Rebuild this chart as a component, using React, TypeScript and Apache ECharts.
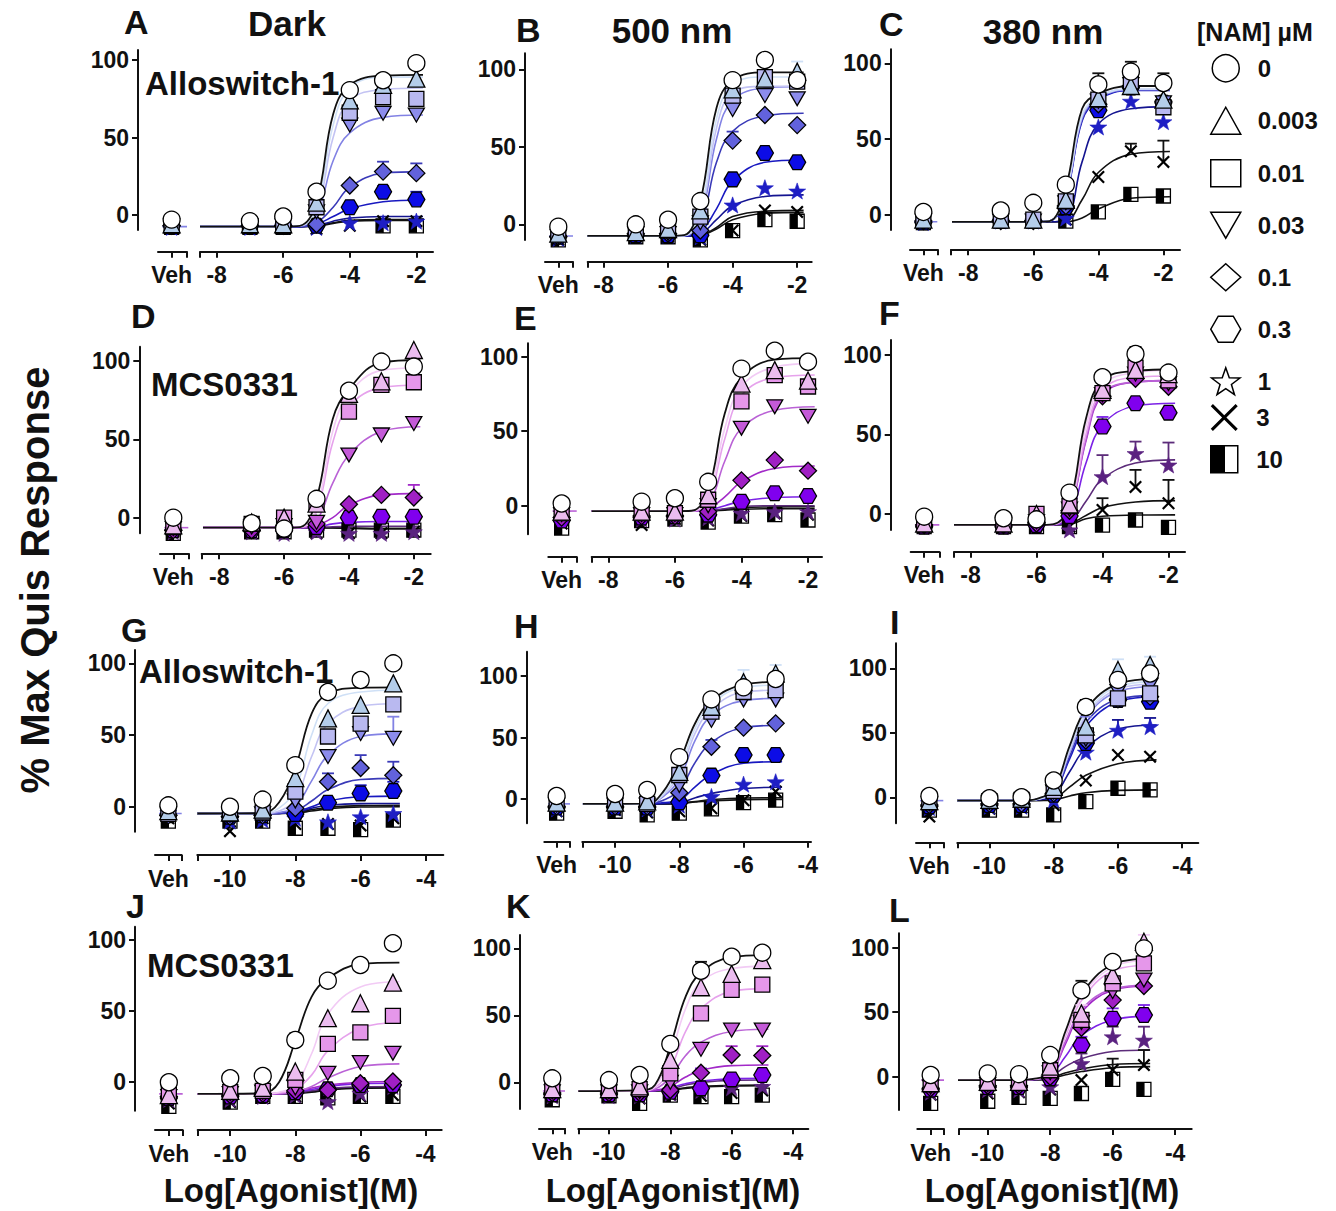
import React, { useEffect, useRef } from "react";
import * as echarts from "echarts";

// ---------------- DATA ----------------
const CONCS = ["0", "0.003", "0.01", "0.03", "0.1", "0.3", "1", "3", "10"];
const DOSES_AF = [-7, -6, -5, -4, -3, -2];
const DOSES_GL = [-10, -9, -8, -7, -6, -5];
const FITX_AF = [-8.5, -6, -5.5, -5, -4.5, -4, -3, -1.8];
const FITX_GL = [-11, -9, -8.5, -8, -7.5, -7, -6, -4.8];
const TICKS_AF = [-8, -6, -4, -2];
const TICKS_GL = [-10, -8, -6, -4];
const Y_TICKS = [0, 50, 100];

// Panel A (Dark, Alloswitch-1, quisqualate)
const A_VEH = [-3, -6, -7, -7, -7, -7, -8, -8, -8];
const A_PTS = [
  [-4, -1, 15, 80.6, 87, 98],
  [-6, -6, 8, 74, 84, 88],
  [-7, -7, 5, 66, 76, 75],
  [-7, -7, 2, 58, 65.6, 64.5],
  [-7, -7, -6, 19, 28, 27],
  [-7, -7, -7, 5, 15, 10],
  [-8, -7, -8, -5, -5, -4],
  [-8, -7, -9, -7, -4, -4],
  [-8, -8, -10, -10, -7, -7],
];
const A_FIT = [
  [-7.5, -7.5, -7, 8, 65, 84, 90, 90.5],
  [-7.5, -7.5, -7, 4, 58, 82, 89, 89],
  [-7.5, -7.5, -7, 2, 50, 74, 81, 82],
  [-7.5, -7.5, -7.2, 0, 35, 53, 63, 64.5],
  [-7.5, -7.5, -7.5, -5, 5, 18, 27, 28],
  [-7.5, -7.5, -7.5, -6, -1, 4, 8.5, 9.7],
  [-7.5, -7.5, -7.5, -7, -4, -2, -1, -1],
  [-7.5, -7.5, -7.5, -7, -5, -3.5, -3, -3],
  [-7.5, -7.5, -7.5, -7.2, -5.5, -4, -3.5, -3.5],
];
const A_ERR = [[4, 4, 34.4], [4, 5, 33.3], [5, 4, 18.7], [5, 5, 15]];

// Panel B (500 nm, Alloswitch-1)
const B_VEH = [-1.5, -6, -6, -8, -8, -8, -9, -10, -10];
const B_PTS = [
  [0, 3, 15, 93, 106, 93],
  [-5, -3, 9, 87, 94, 98.5],
  [-5, -4, 5, 83, 95, 92],
  [-6, -6, 1, 74, 83, 81],
  [-6, -6, -4, 54, 70.5, 64],
  [-7, -7, -7, 29, 46, 40],
  [-7, -7, -8, 12.5, 23.6, 21.5],
  [-8, -8, -10, -4, 9, 8],
  [-8, -8, -10, -4, 3, 2],
];
const B_FIT = [
  [-7.5, -7.5, -7, 15, 75, 93, 98, 98],
  [-7.5, -7.5, -7.2, 8, 68, 90, 95, 95],
  [-7.5, -7.5, -7.3, 5, 62, 85, 89, 89],
  [-7.5, -7.5, -7.3, 3, 55, 80, 88, 89],
  [-7.5, -7.5, -7.4, 0, 40, 60, 70, 71.6],
  [-7.5, -7.5, -7.5, -5, 10, 28, 40, 41.5],
  [-7.5, -7.5, -7.5, -6, 3, 12, 18, 19],
  [-7.5, -7.5, -7.5, -7, -2, 5, 8.5, 9],
  [-7.5, -7.5, -7.5, -7, -3, 3, 7, 7.7],
];
const B_ERR = [[1, 5, 105], [4, 3, 59.8]];

// Panel C (380 nm, Alloswitch-1)
const C_VEH = [2, -3, -3, -4, -4, -5, -5, -5, -5];
const C_PTS = [
  [3, 8, 20, 86, 94.5, 87],
  [-3, -3, 10, 77, 85, 76],
  [-3, -3, 9, 76, 88, 71],
  [-4, -4, 8, 75, 86, 74],
  [-4, -4, 6, 73, 85, 75],
  [-4, -4, 5, 69, 84, 74],
  [-4, -4, -2, 58, 75, 61.5],
  [-4, -4, -3, 25, 42, 35],
  [-4, -4, -4, 2, 13.6, 12.5],
];
const C_FIT = [
  [-4.5, -4.5, -4, 18, 70, 80, 85, 85],
  [-4.5, -4.5, -4, 15, 66, 78, 83, 83],
  [-4.5, -4.5, -4, 14, 65, 78, 83, 83],
  [-4.5, -4.5, -4, 13, 64, 77, 82.5, 82.5],
  [-4.5, -4.5, -4, 13, 63, 77, 82.5, 82.5],
  [-4.5, -4.5, -4, 12, 62, 76, 82, 82],
  [-4.5, -4.5, -4.5, -3, 35, 60, 70, 71.4],
  [-4.5, -4.5, -4.5, -4, 10, 28, 40, 41.8],
  [-4.5, -4.5, -4.5, -4.5, -2, 4, 11, 12],
];
const C_ERR = [[0, 3, 93.4], [0, 4, 101], [0, 5, 93.4], [7, 4, 47], [7, 5, 49]];

// Panel D (Dark, MCS0331)
const D_VEH = [0, -5, -6, -7, -8, -8, -9, -9, -10];
const D_PTS = [
  [-3.6, -7, 12, 81, 99.6, 96.4],
  [-3, 0, 9, 79, 87, 107],
  [-4, 0, 9, 67.7, 84.7, 86.4],
  [-6, -5, -3, 40, 52.8, 60],
  [-8, -7, -4, 8.5, 14.5, 12.8],
  [-8, -8, -6, 0, 0.6, 0.6],
  [-9, -10, -9, -10, -10, -9],
  [-10, -11, -10, -10, -10, -9],
  [-9, -9, -8, -8, -8, -8],
];
const D_FIT = [
  [-6.4, -6.4, -6, 12, 63, 82, 99, 100.6],
  [-6.4, -6.4, -6, 6, 55, 79, 94, 95.7],
  [-6.4, -6.4, -6.2, 4, 48, 71, 83, 84.7],
  [-6.4, -6.4, -6.3, -2, 22, 40, 55, 58],
  [-6.4, -6.4, -6.4, -5, 0, 8, 14.5, 15.5],
  [-6.4, -6.4, -6.4, -6, -4, -3, -2.5, -2.5],
  [-6.4, -6.4, -6.4, -6.2, -5.8, -5.6, -5.5, -5.5],
  [-6.4, -6.4, -6.4, -6.4, -6.5, -6.7, -7, -7],
  [-6.4, -6.4, -6.4, -6.4, -6.6, -6.8, -7, -7],
];
const D_ERR = [[4, 5, 20.9]];

// Panel E (500 nm, MCS0331)
const E_VEH = [1.5, -4, -5, -6, -8, -10, -5, -12, -15];
const E_PTS = [
  [2.7, 5, 16, 92, 104, 96.6],
  [-4, -4, 7, 82, 91, 84],
  [-5, -5, 4, 70, 87.7, 80],
  [-6, -6, 0, 52, 66.4, 60],
  [-7, -7, -4, 17, 30.6, 23.5],
  [-8, -7, -6, 2.7, 8.3, 6.5],
  [-9, -9, -8, -5, -4, -4],
  [-13, -9, -10, -7, -5, -6],
  [-10, -9, -11, -7, -6, -9.6],
];
const E_FIT = [
  [-3.6, -3.6, -3.4, 10, 62, 86, 98, 99],
  [-3.6, -3.6, -3.5, 6, 52, 80, 93, 95.5],
  [-3.6, -3.6, -3.5, 4, 45, 74, 86, 87.7],
  [-3.6, -3.6, -3.6, 0, 30, 52, 64, 66.4],
  [-3.6, -3.6, -3.6, -2, 6, 16, 25, 26.6],
  [-3.6, -3.6, -3.6, -3, 0, 3, 5.5, 6],
  [-3.6, -3.6, -3.6, -3.4, -2, -0.5, 0, 0],
  [-3.6, -3.6, -3.6, -3.5, -2.5, -1.2, -0.8, -0.7],
  [-3.6, -3.6, -3.6, -3.5, -3, -2.4, -2, -2],
];
const E_ERR = [];

// Panel F (380 nm, MCS0331)
const F_VEH = [-1.7, -6, -6, -7, -7, -8, -8, -8, -8];
const F_PTS = [
  [-2.7, -3.4, 13.4, 86, 100.6, 88.9],
  [-6, 0, 6, 78, 90.6, 88],
  [-6, 0, 5, 76, 92, 84],
  [-7, -5, 3, 75, 88, 82],
  [-7, -6, 2, 74, 85, 80],
  [-8, -7, -1.3, 55, 69.6, 63.7],
  [-8, -7, -10, 23.5, 38, 30.8],
  [-8, -7, -8, 2.5, 17, 6.7],
  [-8, -8, -8, -7, -3.8, -8.4],
];
const F_FIT = [
  [-6.9, -6.9, -6.5, 6, 60, 84, 90, 91],
  [-6.9, -6.9, -6.6, 4, 55, 81, 89, 90.6],
  [-6.9, -6.9, -6.6, 3, 50, 78, 86, 86.8],
  [-6.9, -6.9, -6.7, 2, 47, 76, 83, 84],
  [-6.9, -6.9, -6.7, 2, 46, 75, 83, 84],
  [-6.9, -6.9, -6.8, -2, 32, 56, 68, 69.6],
  [-6.9, -6.9, -6.9, -5, 8, 22, 32, 34],
  [-6.9, -6.9, -6.9, -6, -1, 4, 7.5, 8.4],
  [-6.9, -6.9, -6.9, -6.5, -3, -1.5, -0.7, -0.6],
];
const F_ERR = [[0, 4, 105], [6, 3, 37], [6, 4, 45.5], [6, 5, 44.9], [7, 3, 9.9], [7, 4, 27.7], [7, 5, 21.4], [5, 3, 61]];

// Panel G (Dark, Alloswitch-1, glutamate)
const G_VEH = [1, -3, -5, -5, -6, -6, -4, -8, -10];
const G_PTS = [
  [0, 5, 29, 80, 88.4, 100],
  [-4, -2, 20, 61.6, 71, 86],
  [-5, -4, 10.5, 49, 58, 71.4],
  [-6, -5, 4, 35, 51, 47.7],
  [-7, -6, -1, 17.4, 27, 22],
  [-7, -6, -5, 2.8, 9.3, 11],
  [-10, -9, -8, -10.5, -7, -4.7],
  [-17, -8, -12, -12, -13, -8],
  [-10, -10, -15, -15, -16, -9.3],
];
const G_FIT = [
  [-4.7, -4.5, 3, 27, 65, 79, 83, 83.3],
  [-4.7, -4.7, -1, 12, 50, 72, 80, 81.4],
  [-4.7, -4.7, -3, 5, 35, 58, 70, 72],
  [-4.7, -4.7, -4, 0, 18, 36, 49, 51],
  [-4.7, -4.7, -4.5, -3, 4, 12, 19, 19.8],
  [-4.7, -4.7, -4.6, -3.5, 0, 4, 7, 7.4],
  [-4.7, -4.7, -4.6, -4, -1, 1, 2.2, 2.3],
  [-4.7, -4.7, -4.7, -4.2, -2, -0.5, 0.8, 1],
  [-4.7, -4.7, -4.7, -4.4, -3, -1.5, -0.2, 0],
];
const G_ERR = [[3, 5, 62.8], [4, 4, 36], [4, 5, 31.4], [5, 4, 15], [5, 5, 17.4], [4, 3, 23.3]];

// Panel H
const H_VEH = [2.4, -3, -4, -5, -6, -7, -8, -10, -11.6];
const H_PTS = [
  [4, 7.3, 34, 81, 90.8, 97.6],
  [-3, -2, 22, 75, 95, 102],
  [-4, -4, 19.5, 71, 87, 88.6],
  [-5, -5, 11, 64, 80.5, 80.5],
  [-6, -6, 5, 42.5, 58, 61.5],
  [-7, -7, -2.7, 19, 35.8, 35.8],
  [-7, -8, -5, 2, 12, 14],
  [-9, -11, -10, -7.6, -1, 6],
  [-10, -13, -11.6, -8, -3, -1],
];
const H_FIT = [
  [-4, -3.8, 6, 30, 62, 80, 93, 95.4],
  [-4, -3.9, 4, 24, 58, 77, 91, 92.7],
  [-4, -4, 3, 20, 54, 73, 87, 88.6],
  [-4, -4, 2, 16, 48, 68, 80, 82],
  [-4, -4, -1, 7, 30, 46, 58, 60],
  [-4, -4, -3, -1, 10, 20, 29, 30.4],
  [-4, -4, -3.8, -3, 1, 4.5, 8.5, 9.5],
  [-4, -4, -4, -3.5, -2, -0.5, 0.8, 1],
  [-4, -4, -4, -3.8, -2.5, -1.5, -0.5, -0.3],
];
const H_ERR = [[1, 4, 105], [1, 5, 109], [4, 3, 48]];

// Panel I
const I_VEH = [1, -3, -4, -5, -6, -7, -8, -15, -10];
const I_PTS = [
  [-0.8, 0, 13, 70, 91, 96],
  [-2, -1, 8, 54.8, 98.7, 102.6],
  [-3, -2, 5, 48, 76.7, 80.6],
  [-4, -3, 4, 45, 82, 87],
  [-5, -5, 3, 44, 76, 78],
  [-6, -6, 2, 42, 75.5, 74],
  [-7, -7, -2, 35, 52, 54.8],
  [-9, -8, -6, 13, 32.8, 31.5],
  [-10, -10, -13.7, -3.4, 7, 5.7],
];
const I_FIT = [
  [-2.6, -2.6, -1, 6, 40, 68, 88, 92],
  [-2.6, -2.6, -1.5, 5, 38, 65, 86, 89.7],
  [-2.6, -2.6, -1.5, 4, 36, 63, 84, 88],
  [-2.6, -2.6, -1.5, 4, 35, 62, 82, 86],
  [-2.6, -2.6, -1.5, 3, 32, 58, 76, 79],
  [-2.6, -2.6, -1.5, 3, 30, 55, 74, 78],
  [-2.6, -2.6, -2, 1, 20, 38, 53, 56],
  [-2.6, -2.6, -2.5, -1, 8, 17, 26, 29],
  [-2.6, -2.6, -2.5, -2, 1, 3.5, 5.3, 5.7],
];
const I_ERR = [[0, 3, 75.5], [1, 4, 107], [1, 5, 109], [6, 4, 60], [6, 5, 61.5], [3, 3, 62.5]];

// Panel J
const J_VEH = [0, -9, -8, -10, -10, -11, -12, -15, -17];
const J_PTS = [
  [2.8, 4.4, 29.7, 71.4, 82.4, 97.7],
  [-6, -4, 7.5, 45, 55.5, 70],
  [-7, -6, 1.6, 27, 35, 46.6],
  [-8, -7, -4, 6.3, 13.8, 20.4],
  [-9, -8, -6, -5.4, -0.7, 0.5],
  [-10, -9, -7, -5, -1.9, -1.9],
  [-12, -10, -9, -13.6, -7.7, -3],
  [-14, -10, -10, -10, -10, -9],
  [-14, -10, -10, -11, -10, -10],
];
const J_FIT = [
  [-8.2, -7.8, 0, 29, 60, 73, 83, 84],
  [-8.2, -8.2, -7, -2, 20, 48, 67, 70.7],
  [-8.2, -8.2, -7.5, -5, 5, 22, 38, 42],
  [-8.2, -8.2, -8, -7, -3, 3, 11, 12.9],
  [-8.2, -8.2, -8, -6.5, -4, -2, 0, 0.5],
  [-8.2, -8.2, -8, -7, -5, -3, -1, -0.7],
  [-8.2, -8.2, -8.1, -7.5, -6, -4.5, -3.2, -3],
  [-8.2, -8.2, -8.1, -7.7, -6.5, -5, -3.7, -3.5],
  [-8.2, -8.2, -8.1, -7.8, -7, -5.5, -4.2, -4],
];
const J_ERR = [[0, 2, 34.4]];

// Panel K
const K_VEH = [3, -5, -6, -7, -8, -9, -10, -11, -13];
const K_PTS = [
  [1.7, 5.5, 28.6, 83.3, 93.8, 96.8],
  [-5, -3, 16.7, 71, 81, 91.3],
  [-6, -5, 6.7, 51.5, 69, 73],
  [-7, -7, 0, 24.6, 39, 39],
  [-8, -8, -5.7, 7.2, 20.4, 20],
  [-9, -9, -7, -4.5, 2.2, 5.5],
  [-10, -10, -8, -6, -4, -3],
  [-10, -12, -9, -10, -8, -6],
  [-10, -15.7, -9.5, -10.7, -10.7, -9.5],
];
const K_FIT = [
  [-6.5, -6, -2, 27, 64, 82, 93.5, 95],
  [-6.5, -6.3, -3, 20, 55, 75, 85, 86.8],
  [-6.5, -6.4, -4, 10, 38, 55, 68, 70],
  [-6.5, -6.5, -5, 4, 20, 30, 38, 39.6],
  [-6.5, -6.5, -6, -3, 4, 9, 12.5, 13],
  [-6.5, -6.5, -6.2, -4, -1, 1, 2.7, 3],
  [-6.5, -6.5, -6.3, -5, -2, 0, 1.5, 1.7],
  [-6.5, -6.5, -6.4, -5.5, -4, -3, -2.2, -2],
  [-6.5, -6.5, -6.4, -5.7, -4.5, -3.5, -2.7, -2.5],
];
const K_ERR = [[0, 3, 90], [4, 4, 27], [4, 5, 27], [5, 3, 10.4]];

// Panel L
const L_VEH = [1.3, -5, -6, -8, -9, -10, -12, -14, -20.7];
const L_PTS = [
  [2.6, 2, 16.8, 67, 89, 99.5],
  [-4, -4, 7.8, 49, 78.8, 104.6],
  [-5, -5, 5, 44, 72.4, 87.9],
  [-6, -6, 3, 42, 66, 75],
  [-7, -7, 0, 38, 59.4, 70.3],
  [-8, -8, -1.3, 24.5, 45, 47.8],
  [-10, -10, -7.8, 10.3, 31, 28.4],
  [-13, -12, -10, -2.6, 5.2, 9],
  [-19, -16, -16.8, -13, -2, -9.8],
];
const L_FIT = [
  [-2.6, -2.6, -1.5, 3, 36, 64, 87, 91.7],
  [-2.6, -2.6, -1.8, 2.5, 34, 62, 85, 90.4],
  [-2.6, -2.6, -1.8, 2.2, 32, 59, 82, 86.6],
  [-2.6, -2.6, -2, 2, 28, 52, 68, 71],
  [-2.6, -2.6, -2, 2, 26, 50, 67, 70.3],
  [-2.6, -2.6, -2.2, 1, 16, 32, 44, 47],
  [-2.6, -2.6, -2.4, 0, 8, 14, 19.5, 20.7],
  [-2.6, -2.6, -2.5, -1, 3, 6, 9.5, 10.3],
  [-2.6, -2.6, -2.5, -1.5, 1.5, 4, 7, 7.8],
];
const L_ERR = [[1, 5, 110], [0, 3, 74.4], [1, 3, 55.6], [5, 3, 31], [5, 4, 53], [5, 5, 55.6], [6, 3, 18], [6, 4, 38.8], [6, 5, 38.8], [7, 5, 20.7], [7, 4, 14]];

// Text
const PANEL_LETTERS = ["A", "B", "C", "D", "E", "F", "G", "H", "I", "J", "K", "L"];
const COL_TITLES = ["Dark", "500 nm", "380 nm"];
const COMPOUNDS = ["Alloswitch-1", "MCS0331", "Alloswitch-1", "MCS0331"];
const Y_TITLE = "% Max Quis Response";
const X_TITLE = "Log[Agonist](M)";
const LEGEND_TITLE = "[NAM] \u00b5M";

// ---------------- PANEL DEFINITIONS ----------------
const PANELS = [
  { veh: A_VEH, pts: A_PTS, fit: A_FIT, err: A_ERR, kind: "AF", pal: "blue" },
  { veh: B_VEH, pts: B_PTS, fit: B_FIT, err: B_ERR, kind: "AF", pal: "blue" },
  { veh: C_VEH, pts: C_PTS, fit: C_FIT, err: C_ERR, kind: "AF", pal: "blue" },
  { veh: D_VEH, pts: D_PTS, fit: D_FIT, err: D_ERR, kind: "AF", pal: "purple" },
  { veh: E_VEH, pts: E_PTS, fit: E_FIT, err: E_ERR, kind: "AF", pal: "purple" },
  { veh: F_VEH, pts: F_PTS, fit: F_FIT, err: F_ERR, kind: "AF", pal: "purple" },
  { veh: G_VEH, pts: G_PTS, fit: G_FIT, err: G_ERR, kind: "GL", pal: "blue" },
  { veh: H_VEH, pts: H_PTS, fit: H_FIT, err: H_ERR, kind: "GL", pal: "blue" },
  { veh: I_VEH, pts: I_PTS, fit: I_FIT, err: I_ERR, kind: "GL", pal: "blue" },
  { veh: J_VEH, pts: J_PTS, fit: J_FIT, err: J_ERR, kind: "GL", pal: "purple" },
  { veh: K_VEH, pts: K_PTS, fit: K_FIT, err: K_ERR, kind: "GL", pal: "purple" },
  { veh: L_VEH, pts: L_PTS, fit: L_FIT, err: L_ERR, kind: "GL", pal: "purple" },
];

// Layout (pixels) per panel
const LAYOUT = [
  { yLineX: 138, top: 50, bottom: 230, yMin: -9.7, yMax: 106.5, axisY: 251.7, vehL: 158, vehR: 187, vehT: 0.47, mainL: 200, mainR: 433, xMin: -8.5, xMax: -1.5 },
  { yLineX: 525, top: 53.3, bottom: 240, yMin: -10.1, yMax: 110.3, axisY: 261.7, vehL: 545, vehR: 573, vehT: 0.475, mainL: 587.7, mainR: 811.7, xMin: -8.49, xMax: -1.55 },
  { yLineX: 890.7, top: 49.3, bottom: 230, yMin: -9.9, yMax: 109.2, axisY: 249.3, vehL: 910, vehR: 937.3, vehT: 0.49, mainL: 951, mainR: 1180, xMin: -8.53, xMax: -1.49 },
  { yLineX: 139.3, top: 346.7, bottom: 533.3, yMin: -10, yMax: 109.1, axisY: 553.3, vehL: 160, vehR: 188.3, vehT: 0.47, mainL: 201.7, mainR: 430.7, xMin: -8.54, xMax: -1.48 },
  { yLineX: 527.3, top: 343.3, bottom: 534.3, yMin: -19.2, yMax: 109, axisY: 556.7, vehL: 548.3, vehR: 576.7, vehT: 0.47, mainL: 591.7, mainR: 822, xMin: -8.5, xMax: -1.58 },
  { yLineX: 890.7, top: 340, bottom: 530, yMin: -10.1, yMax: 109.4, axisY: 551.7, vehL: 910.7, vehR: 939.3, vehT: 0.47, mainL: 954, mainR: 1185, xMin: -8.5, xMax: -1.5 },
  { yLineX: 135, top: 650, bottom: 831.7, yMin: -17.4, yMax: 109.3, axisY: 855, vehL: 155, vehR: 181.7, vehT: 0.5, mainL: 197.3, mainR: 443.3, xMin: -11, xMax: -3.47 },
  { yLineX: 526.7, top: 651.7, bottom: 823.3, yMin: -19.8, yMax: 119.8, axisY: 841.7, vehL: 544.3, vehR: 570, vehT: 0.48, mainL: 582.3, mainR: 811, xMin: -11.02, xMax: -3.9 },
  { yLineX: 896, top: 643.3, bottom: 823.3, yMin: -20.2, yMax: 119.4, axisY: 842.3, vehL: 916, vehR: 943.3, vehT: 0.49, mainL: 957.3, mainR: 1198.3, xMin: -11, xMax: -3.5 },
  { yLineX: 135, top: 926.7, bottom: 1110.7, yMin: -20, yMax: 109.3, axisY: 1130, vehL: 155, vehR: 182.7, vehT: 0.5, mainL: 197.7, mainR: 441.7, xMin: -11, xMax: -3.5 },
  { yLineX: 520, top: 935, bottom: 1109, yMin: -19.9, yMax: 110, axisY: 1128.3, vehL: 539, vehR: 565, vehT: 0.51, mainL: 578.3, mainR: 808.3, xMin: -11, xMax: -3.5 },
  { yLineX: 898.3, top: 933.3, bottom: 1110, yMin: -25.8, yMax: 111.2, axisY: 1129, vehL: 917.3, vehR: 944, vehT: 0.5, mainL: 959, mainR: 1191.7, xMin: -10.92, xMax: -3.47 },
];

const LETTER_POS = [[124, 22], [516, 30], [879, 24], [131, 316], [514, 318], [879, 313], [121, 630], [514, 626], [890, 622], [126, 906], [506, 906], [889, 910]];
const COL_TITLE_POS = [[287, 23], [672, 30], [1043, 31]];
const COMPOUND_POS = [[145, 83], [151, 384], [139, 671], [147, 965]];
const X_TITLE_POS = [[291, 1190], [673, 1190], [1052, 1190]];

// ---------------- STYLES ----------------
const FONT_FAMILY = '"Liberation Sans", Arial, Helvetica, sans-serif';
const INK = "#111111";

const DOWN_TRI = "path://M0,0L10,0L5,8.66Z";
const HEX = "path://M2.5,0L7.5,0L10,4.33L7.5,8.66L2.5,8.66L0,4.33Z";
const STAR = "path://M5,0L6.18,3.38L9.76,3.45L6.9,5.62L7.94,9.05L5,7L2.06,9.05L3.1,5.62L0.24,3.45L3.82,3.38Z";
const XMARK = "path://M0,1.2L1.2,0L5,3.8L8.8,0L10,1.2L6.2,5L10,8.8L8.8,10L5,6.2L1.2,10L0,8.8L3.8,5Z";
const XMARK_THIN = "path://M0,0.8L0.8,0L5,4.2L9.2,0L10,0.8L5.8,5L10,9.2L9.2,10L5,5.8L0.8,10L0,9.2L4.2,5Z";
const HALFSQ = "path://M0,0L10,0L10,10L0,10Z M5,0L5,10L10,10L10,0Z";
const SYMBOLS = ["circle", "triangle", "rect", DOWN_TRI, "diamond", HEX, STAR, XMARK, HALFSQ];
const LEGEND_ICONS = ["circle", "triangle", "rect", DOWN_TRI, "diamond", HEX, STAR, XMARK_THIN, HALFSQ];
const SYM_SIZE = [17, 17, 15, 16, 17, 17, 17, 13, 14];

const PALETTES = {
  blue: {
    fill: ["#ffffff", "#b4cdea", "#b9b9f0", "#8c8cec", "#6262dc", "#0c0ce6", "#1e1ec4", "#000000", "#000000"],
    line: ["#111111", "#cfe0f6", "#c3c3f3", "#8282e4", "#3a3ab8", "#1818c0", "#141490", "#111111", "#111111"],
  },
  purple: {
    fill: ["#ffffff", "#ebbcef", "#e597ea", "#c45ad8", "#a020c4", "#8000ee", "#5a2280", "#000000", "#000000"],
    line: ["#111111", "#f2cbf5", "#e6a2ec", "#ba62d6", "#a22ac8", "#7c22e6", "#5c2c7a", "#111111", "#111111"],
  },
};

const labelFont = { fontFamily: FONT_FAMILY, fontWeight: "bold" as const, fontSize: 23, color: INK };

function markerStyle(pal: any, i: number) {
  const fill = pal.fill[i];
  if (i === 6) return { color: fill, borderColor: fill, borderWidth: 0.6, opacity: 1 };
  if (i === 7) return { color: "#000", borderWidth: 0, opacity: 1 };
  return { color: fill, borderColor: "#000", borderWidth: 1.3, opacity: 1 };
}

function txt(text: string, x: number, y: number, size: number, align = "left", rotation = 0) {
  return {
    type: "text",
    x,
    y,
    rotation,
    z: 100,
    silent: true,
    style: {
      text,
      font: `bold ${size}px ${FONT_FAMILY}`,
      fill: INK,
      align,
      verticalAlign: "middle",
      textAlign: align,
      textVerticalAlign: "middle",
    },
  };
}

function buildOption() {
  const grid: any[] = [];
  const xAxis: any[] = [];
  const yAxis: any[] = [];
  const series: any[] = [];

  PANELS.forEach((p, k) => {
    const L = LAYOUT[k];
    const pal = (PALETTES as any)[p.pal];
    const doses = p.kind === "AF" ? DOSES_AF : DOSES_GL;
    const fitX = p.kind === "AF" ? FITX_AF : FITX_GL;
    const ticks = p.kind === "AF" ? TICKS_AF : TICKS_GL;
    const gV = grid.length;
    const gM = gV + 1;
    const h = L.bottom - L.top;
    grid.push({ left: L.vehL, top: L.top, width: L.vehR - L.vehL, height: h, outerBoundsMode: "none", containLabel: false });
    grid.push({ left: L.mainL, top: L.top, width: L.mainR - L.mainL, height: h, outerBoundsMode: "none", containLabel: false });

    const axLine = { show: true, onZero: false, lineStyle: { color: INK, width: 2 } };
    const axTick = { show: true, length: 6, inside: false, lineStyle: { color: INK, width: 2 } };

    xAxis.push({
      gridIndex: gV, type: "value", min: 0, max: 1, position: "bottom", offset: L.axisY - L.bottom,
      axisLine: axLine,
      axisTick: { ...axTick, customValues: [L.vehT, 1] },
      axisLabel: { ...labelFont, margin: 12, customValues: [L.vehT], formatter: () => "Veh" },
      splitLine: { show: false },
    });
    xAxis.push({
      gridIndex: gM, type: "value", min: L.xMin, max: L.xMax, position: "bottom", offset: L.axisY - L.bottom,
      axisLine: axLine,
      axisTick: { ...axTick, customValues: [L.xMin, ...ticks] },
      axisLabel: { ...labelFont, margin: 12, customValues: ticks, formatter: (v: number) => String(v) },
      splitLine: { show: false },
    });
    yAxis.push({
      gridIndex: gV, type: "value", min: L.yMin, max: L.yMax, position: "left", offset: L.vehL - L.yLineX,
      axisLine: axLine,
      axisTick: { ...axTick, customValues: Y_TICKS },
      axisLabel: { ...labelFont, margin: 9, customValues: Y_TICKS },
      splitLine: { show: false },
    });
    yAxis.push({ gridIndex: gM, type: "value", min: L.yMin, max: L.yMax, show: false, splitLine: { show: false } });

    // Veh short fitted-baseline segment
    series.push({
      type: "line", xAxisIndex: gV, yAxisIndex: gV, silent: true, symbol: "none", z: 2,
      lineStyle: { color: pal.line[3], width: 1.6 },
      data: [[0.15, p.fit[1][0]], [1, p.fit[1][0]]],
    });

    // fitted curves
    for (let i = CONCS.length - 1; i >= 0; i--) {
      series.push({
        type: "line", name: "fit " + CONCS[i], xAxisIndex: gM, yAxisIndex: gM, silent: true,
        symbol: "none", smooth: 0.4, z: 2,
        lineStyle: { color: pal.line[i], width: i === 0 ? 1.8 : 1.6 },
        data: fitX.map((x, j) => [x, p.fit[i][j]]),
      });
    }

    // error bars (upper SEM)
    if (p.err.length) {
      series.push({
        type: "custom", xAxisIndex: gM, yAxisIndex: gM, silent: true, z: 3,
        data: p.err.map(([i, d, top]) => [doses[d], p.pts[i][d], top, i]),
        renderItem: (_params: any, api: any) => {
          const x = api.value(0), y = api.value(1), t = api.value(2), i = api.value(3);
          const p0 = api.coord([x, y]);
          const p1 = api.coord([x, t]);
          const c = pal.line[i];
          return {
            type: "group",
            children: [
              { type: "line", shape: { x1: p0[0], y1: p0[1], x2: p1[0], y2: p1[1] }, style: { stroke: c, lineWidth: 1.8 } },
              { type: "line", shape: { x1: p1[0] - 6, y1: p1[1], x2: p1[0] + 6, y2: p1[1] }, style: { stroke: c, lineWidth: 1.8 } },
            ],
          };
        },
      });
    }

    // data points (0 µM drawn last, on top)
    for (let i = CONCS.length - 1; i >= 0; i--) {
      const common = {
        type: "scatter", name: CONCS[i], symbol: SYMBOLS[i], symbolSize: SYM_SIZE[i],
        symbolKeepAspect: true, z: 4, silent: true, itemStyle: markerStyle(pal, i),
      };
      series.push({ ...common, xAxisIndex: gM, yAxisIndex: gM, data: doses.map((x, j) => [x, p.pts[i][j]]) });
      series.push({ ...common, xAxisIndex: gV, yAxisIndex: gV, data: [[L.vehT, p.veh[i]]] });
    }
  });

  const graphic: any[] = [];
  PANEL_LETTERS.forEach((t, i) => graphic.push(txt(t, LETTER_POS[i][0], LETTER_POS[i][1], 34)));
  COL_TITLES.forEach((t, i) => graphic.push(txt(t, COL_TITLE_POS[i][0], COL_TITLE_POS[i][1], 35, "center")));
  COMPOUNDS.forEach((t, i) => graphic.push(txt(t, COMPOUND_POS[i][0], COMPOUND_POS[i][1], 33)));
  X_TITLE_POS.forEach((pos) => graphic.push(txt(X_TITLE, pos[0], pos[1], 33, "center")));
  graphic.push(txt(Y_TITLE, 35, 580, 40, "center", Math.PI / 2));
  graphic.push(txt(LEGEND_TITLE, 1197, 32, 25));

  const legItem = (name: string, i: number) => ({
    name,
    icon: LEGEND_ICONS[i],
    itemStyle: i >= 7
      ? { color: "#000", borderColor: "#000", borderWidth: i === 7 ? 0 : 1.5, opacity: 1 }
      : { color: "#fff", borderColor: "#000", borderWidth: 1.5, opacity: 1 },
  });
  const legCommon = {
    orient: "vertical", left: 1205, itemWidth: 30, itemHeight: 27, selectedMode: false,
    textStyle: { fontSize: 24, fontWeight: "bold", fontFamily: FONT_FAMILY, color: INK, padding: [0, 0, 0, 12] },
  };

  return {
    animation: false,
    backgroundColor: "#ffffff",
    grid, xAxis, yAxis, series, graphic,
    legend: [
      { ...legCommon, top: 49, itemGap: 24, data: CONCS.slice(0, 7).map((n, i) => legItem(n, i)) },
      { ...legCommon, top: 399, itemGap: 14, data: CONCS.slice(7).map((n, i) => legItem(n, i + 7)) },
    ],
  };
}

export default function App() {
  const ref = useRef<HTMLDivElement>(null);
  useEffect(() => {
    const chart = echarts.init(ref.current as HTMLDivElement, null, { renderer: "svg" });
    chart.setOption(buildOption() as any);
    return () => chart.dispose();
  }, []);
  return (
    <div
      ref={ref}
      style={{ position: "absolute", left: 0, top: 0, width: 1336, height: 1211, background: "#fff" }}
    />
  );
}
